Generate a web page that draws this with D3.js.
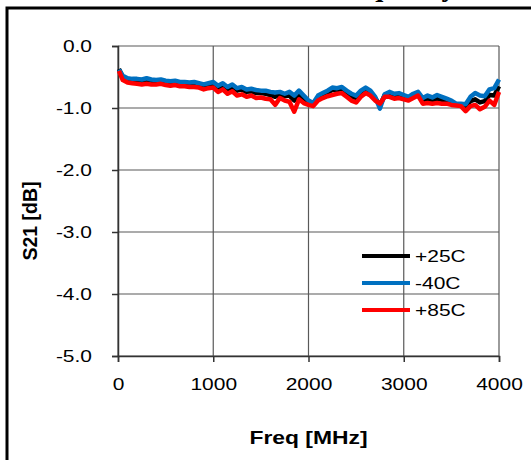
<!DOCTYPE html>
<html>
<head>
<meta charset="utf-8">
<script src="https://cdnjs.cloudflare.com/ajax/libs/d3/7.8.5/d3.min.js"></script>
<style>
  body { margin: 0; background: #fff; }
  svg { display: block; }
</style>
</head>
<body>
<div id="chart"></div>
<script>
// frequency points (MHz)
var freq = [10, 50, 100, 150, 200, 250, 300, 350, 400, 450, 500, 550, 600, 650, 700, 750, 800, 850, 900, 950,
  1000, 1050, 1100, 1150, 1200, 1250, 1300, 1350, 1400, 1450, 1500, 1550, 1600, 1650, 1700, 1750, 1800, 1850, 1900, 1950,
  2000, 2050, 2100, 2150, 2200, 2250, 2300, 2350, 2400, 2450, 2500, 2550, 2600, 2650, 2700, 2750, 2800, 2850, 2900, 2950,
  3000, 3050, 3100, 3150, 3200, 3250, 3300, 3350, 3400, 3450, 3500, 3550, 3600, 3650, 3700, 3750, 3800, 3850, 3900, 3950, 4000];

// S21 [dB] at +25C
var s21_25 = [-0.37, -0.50, -0.54, -0.55, -0.55, -0.56, -0.55, -0.56, -0.57, -0.56, -0.58, -0.59, -0.58, -0.60, -0.60, -0.61, -0.61, -0.62, -0.65, -0.63,
  -0.62, -0.68, -0.64, -0.70, -0.66, -0.72, -0.70, -0.74, -0.73, -0.76, -0.76, -0.77, -0.79, -0.82, -0.78, -0.81, -0.80, -0.88, -0.78, -0.85,
  -0.90, -0.94, -0.83, -0.78, -0.75, -0.71, -0.71, -0.69, -0.76, -0.81, -0.84, -0.76, -0.70, -0.75, -0.84, -0.96, -0.79, -0.77, -0.80, -0.79,
  -0.82, -0.85, -0.80, -0.77, -0.88, -0.85, -0.88, -0.85, -0.87, -0.89, -0.91, -0.94, -0.95, -0.99, -0.89, -0.86, -0.91, -0.89, -0.79, -0.80, -0.65];

// S21 [dB] at -40C
var s21_m40 = [-0.38, -0.48, -0.52, -0.53, -0.53, -0.54, -0.52, -0.54, -0.55, -0.54, -0.56, -0.57, -0.56, -0.58, -0.58, -0.59, -0.58, -0.60, -0.62, -0.60,
  -0.58, -0.64, -0.60, -0.66, -0.62, -0.68, -0.66, -0.70, -0.69, -0.71, -0.72, -0.72, -0.74, -0.75, -0.74, -0.77, -0.74, -0.80, -0.72, -0.80,
  -0.88, -0.92, -0.80, -0.76, -0.72, -0.67, -0.68, -0.66, -0.72, -0.77, -0.80, -0.72, -0.67, -0.72, -0.82, -1.01, -0.78, -0.74, -0.77, -0.76,
  -0.79, -0.82, -0.77, -0.74, -0.84, -0.80, -0.83, -0.79, -0.82, -0.85, -0.88, -0.93, -0.93, -0.94, -0.82, -0.76, -0.80, -0.81, -0.70, -0.68, -0.54];

// S21 [dB] at +85C
var s21_85 = [-0.40, -0.55, -0.59, -0.60, -0.61, -0.62, -0.61, -0.62, -0.62, -0.61, -0.63, -0.64, -0.63, -0.65, -0.65, -0.66, -0.66, -0.67, -0.70, -0.68,
  -0.67, -0.74, -0.70, -0.77, -0.73, -0.80, -0.78, -0.82, -0.80, -0.84, -0.83, -0.85, -0.86, -0.95, -0.84, -0.88, -0.90, -1.06, -0.86, -0.92,
  -0.95, -0.97, -0.88, -0.84, -0.81, -0.79, -0.77, -0.76, -0.82, -0.88, -0.91, -0.82, -0.76, -0.80, -0.88, -0.93, -0.82, -0.82, -0.85, -0.84,
  -0.86, -0.88, -0.84, -0.80, -0.93, -0.92, -0.93, -0.92, -0.93, -0.93, -0.95, -0.96, -0.97, -1.05, -0.97, -0.95, -1.02, -0.98, -0.88, -0.95, -0.74];

var xTicks = [0, 1000, 2000, 3000, 4000];
var yTicks = [0, -1, -2, -3, -4, -5];

var seriesNames = ['+25C', '-40C', '+85C'];
var seriesColors = ['#000000', '#0070C0', '#FF0000'];
var seriesValues = [s21_25, s21_m40, s21_85];

var W = 531, H = 460;
var plot = { left: 118, right: 499, top: 46, bottom: 356 };
var WIDEN = 1.27; // the source picture's text is drawn wider than normal

var svg = d3.select('#chart').append('svg')
  .attr('width', W)
  .attr('height', H);

// stretch text horizontally while keeping its anchor
function widen(sel) {
  sel.each(function () {
    var len = this.getComputedTextLength();
    d3.select(this)
      .attr('textLength', len * WIDEN)
      .attr('lengthAdjust', 'spacingAndGlyphs');
  });
}

// outer frame, runs past the right and bottom edge of the window
svg.append('rect')
  .attr('x', 7).attr('y', 8)
  .attr('width', 700).attr('height', 700)
  .attr('fill', 'none')
  .attr('stroke', '#000')
  .attr('stroke-width', 3);

// title, mostly cut off above the window
svg.append('text')
  .attr('x', 456).attr('y', -4)
  .attr('text-anchor', 'end')
  .style('font-family', '"Liberation Serif", serif')
  .style('font-weight', 'bold')
  .style('font-size', '29px')
  .text('Insertion Loss vs. Frequency');

var x = d3.scaleLinear().domain([0, 4000]).range([plot.left, plot.right]);
var y = d3.scaleLinear().domain([-5, 0]).range([plot.bottom, plot.top]);

// grid lines
var grid = svg.append('g');
grid.selectAll('.hgrid')
  .data(yTicks)
  .enter().append('line')
  .attr('x1', plot.left).attr('x2', plot.right)
  .attr('y1', function (d) { return y(d); })
  .attr('y2', function (d) { return y(d); })
  .attr('stroke', '#595959')
  .attr('stroke-width', 1.2);
grid.selectAll('.vgrid')
  .data(xTicks)
  .enter().append('line')
  .attr('y1', plot.top).attr('y2', plot.bottom)
  .attr('x1', function (d) { return x(d); })
  .attr('x2', function (d) { return x(d); })
  .attr('stroke', '#595959')
  .attr('stroke-width', 1.2);

// axes
var tickFont = '"Liberation Sans", Arial, sans-serif';

var yAxis = svg.append('g')
  .attr('transform', 'translate(' + plot.left + ',0)')
  .call(d3.axisLeft(y).tickValues(yTicks).tickSize(6).tickPadding(20)
    .tickFormat(function (d) { return d.toFixed(1); }));
var xAxis = svg.append('g')
  .attr('transform', 'translate(0,' + plot.bottom + ')')
  .call(d3.axisBottom(x).tickValues(xTicks).tickSize(6).tickPadding(16)
    .tickFormat(function (d) { return String(d); }));

[yAxis, xAxis].forEach(function (ax) {
  ax.select('.domain').attr('stroke', '#333').attr('stroke-width', 1.5);
  ax.selectAll('.tick line').attr('stroke', '#333').attr('stroke-width', 1.5);
  ax.selectAll('.tick text')
    .attr('fill', '#000')
    .style('font-family', tickFont)
    .style('font-size', '16.5px')
    .call(widen);
});

// series lines, drawn in legend order so red ends on top
var line = d3.line()
  .x(function (d, i) { return x(freq[i]); })
  .y(function (d) { return y(d); });

seriesValues.forEach(function (vals, k) {
  svg.append('path')
    .datum(vals)
    .attr('d', line)
    .attr('fill', 'none')
    .attr('stroke', seriesColors[k])
    .attr('stroke-width', 4.5)
    .attr('stroke-linejoin', 'round');
});

// legend
var legend = svg.append('g').attr('transform', 'translate(362,256)');
seriesNames.forEach(function (name, k) {
  var g = legend.append('g').attr('transform', 'translate(0,' + (k * 27) + ')');
  g.append('line')
    .attr('x1', 0).attr('x2', 48)
    .attr('y1', 0).attr('y2', 0)
    .attr('stroke', seriesColors[k])
    .attr('stroke-width', 4);
  g.append('text')
    .attr('x', 53).attr('y', 0)
    .attr('dy', '0.35em')
    .style('font-family', tickFont)
    .style('font-size', '16.5px')
    .text(name)
    .call(widen);
});

// axis titles
svg.append('text')
  .attr('x', (plot.left + plot.right) / 2)
  .attr('y', 444)
  .attr('text-anchor', 'middle')
  .style('font-family', tickFont)
  .style('font-weight', 'bold')
  .style('font-size', '18px')
  .text('Freq [MHz]')
  .call(widen);

svg.append('text')
  .attr('transform', 'translate(37,221) rotate(-90)')
  .attr('text-anchor', 'middle')
  .style('font-family', tickFont)
  .style('font-weight', 'bold')
  .style('font-size', '19.5px')
  .text('S21 [dB]');
</script>
</body>
</html>
